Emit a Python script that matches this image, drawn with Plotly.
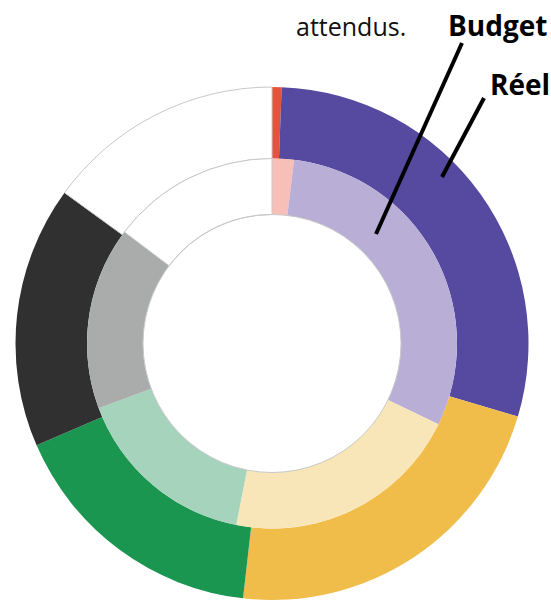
import plotly.graph_objects as go

W, H = 551, 600

# ── data (share of the ring, %) ───────────────────────────────────────────
categories = ["Cat. 1", "Cat. 2", "Cat. 3", "Cat. 4", "Cat. 5", "Non affecté"]
reel_values = [0.6, 29.0, 22.2, 16.7, 16.5, 15.0]
budget_values = [1.9, 30.3, 20.9, 16.2, 16.0, 14.7]

REEL_COLORS = ["#E5533D", "#5649A0", "#F0BD4A", "#1B9651", "#303030", "#FFFFFF"]
BUDGET_COLORS = ["#F7BFB8", "#B8AED6", "#F9E6B8", "#A5D3BC", "#AAACAB", "#FFFFFF"]
EDGE = "#C8C8C8"

CX, CY = 272, 343.5      # ring centre, px
R_OUT, R_MID, R_IN = 256.5, 185, 129


def px_x(x):
    return x / W


def px_y(y):
    return 1 - y / H


def domain(r):
    return dict(x=[px_x(CX - r), px_x(CX + r)],
                y=[max(0, px_y(CY + r)), px_y(CY - r)])


def ring(values, colors, r, hole, name):
    widths = [1 if c == "#FFFFFF" else 0 for c in colors]
    return go.Pie(
        labels=categories, values=values, name=name,
        domain=domain(r), hole=hole,
        sort=False, direction="clockwise", rotation=0,
        marker=dict(colors=colors, line=dict(color=EDGE, width=widths)),
        textinfo="none", hoverinfo="label+percent+name", showlegend=False,
    )


fig = go.Figure()
fig.add_trace(ring(reel_values, REEL_COLORS, R_OUT, R_MID / R_OUT, "Réel"))
fig.add_trace(ring(budget_values, BUDGET_COLORS, R_MID, R_IN / R_MID, "Budget"))

# hole outline
fig.add_shape(type="circle", xref="paper", yref="paper",
              x0=px_x(CX - R_IN), x1=px_x(CX + R_IN),
              y0=px_y(CY + R_IN), y1=px_y(CY - R_IN),
              line=dict(color=EDGE, width=1))

# leader lines
fig.add_shape(type="line", xref="paper", yref="paper",
              x0=px_x(462), y0=px_y(43), x1=px_x(376), y1=px_y(234),
              line=dict(color="black", width=4))
fig.add_shape(type="line", xref="paper", yref="paper",
              x0=px_x(484), y0=px_y(98), x1=px_x(442), y1=px_y(177),
              line=dict(color="black", width=4))

FONT = "Open Sans, sans-serif"
fig.add_annotation(text="attendus.", xref="paper", yref="paper",
                   x=px_x(294), y=px_y(26), xanchor="left", yanchor="middle",
                   showarrow=False, font=dict(family=FONT, size=25, color="#111111"))
fig.add_annotation(text="<b>Budget</b>", xref="paper", yref="paper",
                   x=px_x(549), y=px_y(25), xanchor="right", yanchor="middle",
                   showarrow=False, font=dict(family=FONT, size=28, color="#000000"))
fig.add_annotation(text="<b>Réel</b>", xref="paper", yref="paper",
                   x=px_x(552), y=px_y(84), xanchor="right", yanchor="middle",
                   showarrow=False, font=dict(family=FONT, size=28, color="#000000"))

fig.update_layout(
    width=W, height=H,
    margin=dict(l=0, r=0, t=0, b=0),
    paper_bgcolor="white", plot_bgcolor="white",
)

# drop the default 8px page margin so the figure fills the window exactly
fig.write_html("out.html", config={"displayModeBar": False},
               post_script="document.body.style.margin = '0';")
